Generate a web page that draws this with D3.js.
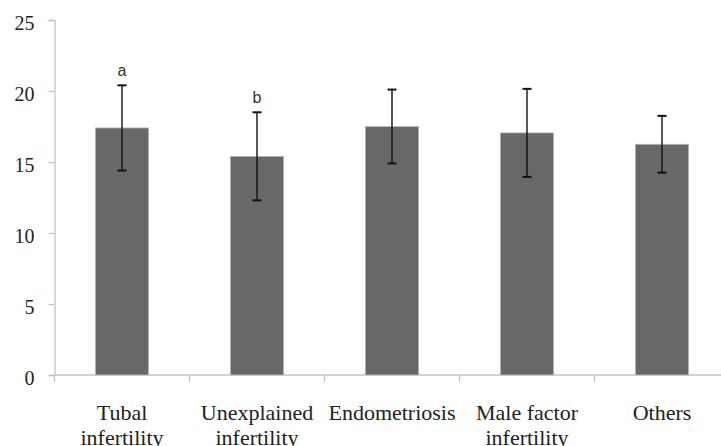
<!DOCTYPE html>
<html>
<head>
<meta charset="utf-8">
<script src="https://cdn.jsdelivr.net/npm/d3@7"></script>
<style>
  html, body { margin: 0; padding: 0; background: #fff; }
  svg { display: block; }
</style>
</head>
<body>
<svg id="chart" width="721" height="446"></svg>
<script>
// Infertility groups, mean values with error (SD) and significance letters
const categories = [
  ["Tubal", "infertility"],
  ["Unexplained", "infertility"],
  ["Endometriosis"],
  ["Male factor", "infertility"],
  ["Others"]
];
const means = [17.4, 15.4, 17.5, 17.05, 16.25];
const errors = [3.0, 3.1, 2.6, 3.1, 2.0];
const letters = ["a", "b", "", "", ""];
const yTicks = [0, 5, 10, 15, 20, 25];

const svg = d3.select("#chart");
const plotLeft = 54.5, plotTop = 20, plotBottom = 375;
const step = 135;

const keys = categories.map(c => c.join(" "));
const x = d3.scaleBand()
  .domain(keys)
  .range([plotLeft, plotLeft + step * keys.length])
  .padding(0);
const barW = x.bandwidth() * 0.395;

const y = d3.scaleLinear().domain([0, 25]).range([plotBottom, plotTop]);

const axisColor = "#c4c4c4";
const serif = "'Liberation Serif', 'DejaVu Serif', serif";

// y axis
const yAxis = svg.append("g")
  .attr("transform", `translate(${plotLeft},0)`)
  .call(d3.axisLeft(y).tickValues(yTicks).tickSize(6).tickPadding(14).tickFormat(d3.format("d")));
yAxis.select(".domain").attr("stroke", axisColor).attr("stroke-width", 1.3);
yAxis.selectAll(".tick line").attr("stroke", axisColor).attr("stroke-width", 1.3);
yAxis.selectAll(".tick text")
  .attr("font-family", serif)
  .attr("font-size", 20)
  .attr("fill", "#222")
  .attr("dy", "0.45em");

// x axis baseline with category boundary ticks
svg.append("line")
  .attr("x1", plotLeft).attr("x2", 721)
  .attr("y1", plotBottom).attr("y2", plotBottom)
  .attr("stroke", axisColor).attr("stroke-width", 1.3);
svg.append("g").selectAll("line")
  .data(keys)
  .join("line")
  .attr("x1", d => x(d)).attr("x2", d => x(d))
  .attr("y1", plotBottom).attr("y2", plotBottom + 7)
  .attr("stroke", axisColor).attr("stroke-width", 1.3);

// bars
svg.append("g").selectAll("rect")
  .data(means)
  .join("rect")
  .attr("x", (d, i) => x(keys[i]) + (x.bandwidth() - barW) / 2)
  .attr("y", d => y(d))
  .attr("width", barW)
  .attr("height", d => y(0) - y(d))
  .attr("fill", "#686868")
  .attr("stroke", "#bdbdbd")
  .attr("stroke-width", 0.8);

// error bars
const cx = i => x(keys[i]) + x.bandwidth() / 2;
const eb = svg.append("g").attr("stroke", "#111").attr("stroke-width", 1.4);
means.forEach((m, i) => {
  const hi = y(m + errors[i]), lo = y(m - errors[i]);
  eb.append("line").attr("x1", cx(i)).attr("x2", cx(i)).attr("y1", hi).attr("y2", lo);
  eb.append("line").attr("x1", cx(i) - 4.5).attr("x2", cx(i) + 4.5).attr("y1", hi).attr("y2", hi).attr("stroke-width", 2);
  eb.append("line").attr("x1", cx(i) - 4.5).attr("x2", cx(i) + 4.5).attr("y1", lo).attr("y2", lo).attr("stroke-width", 2);
});

// significance letters
svg.append("g").selectAll("text")
  .data(letters)
  .join("text")
  .attr("x", (d, i) => cx(i))
  .attr("y", (d, i) => y(means[i] + errors[i]) - 9)
  .attr("text-anchor", "middle")
  .attr("font-family", "'Liberation Sans', Arial, sans-serif")
  .attr("font-size", 16)
  .attr("fill", "#333")
  .text(d => d);

// category labels
const lab = svg.append("g")
  .attr("font-family", serif)
  .attr("font-size", 22)
  .attr("fill", "#222")
  .attr("text-anchor", "middle");
categories.forEach((lines, i) => {
  const t = lab.append("text").attr("x", cx(i)).attr("y", 420);
  lines.forEach((ln, j) => {
    t.append("tspan").attr("x", cx(i)).attr("dy", j === 0 ? 0 : 25).text(ln);
  });
});
</script>
</body>
</html>
